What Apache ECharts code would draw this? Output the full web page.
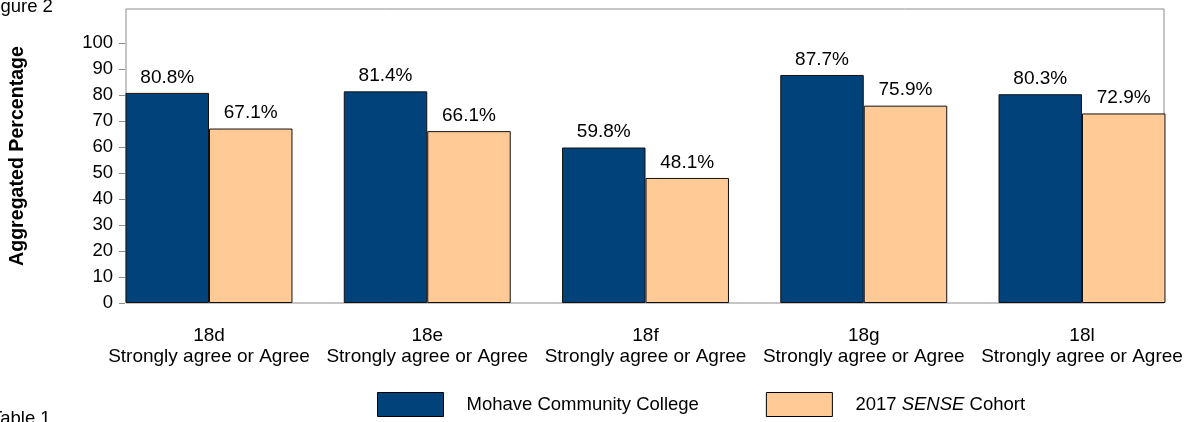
<!DOCTYPE html>
<html>
<head>
<meta charset="utf-8">
<script src="https://cdn.jsdelivr.net/npm/echarts@6/dist/echarts.min.js"></script>
<style>
  html, body { margin: 0; padding: 0; background: #fff; }
  #chart { width: 1187px; height: 422px; }
</style>
</head>
<body>
<div id="chart"></div>
<script>
const categories = ['18d', '18e', '18f', '18g', '18l'];
const categorySub = 'Strongly agree or Agree';
const seriesNames = ['Mohave Community College', '2017 SENSE Cohort'];
const collegeValues = [80.8, 81.4, 59.8, 87.7, 80.3];
const cohortValues = [67.1, 66.1, 48.1, 75.9, 72.9];
const yTicks = { min: 0, max: 100, interval: 10 };
const yAxisTitle = 'Aggregated Percentage';
const figureLabel = 'Figure 2';
const tableLabel = 'Table 1';

const FONT = '"Liberation Sans", Arial, sans-serif';
const FS = 18.5;
const FS_CAT = 19;
const NAVY = '#02427A';
const PEACH = '#FFCA96';

const chart = echarts.init(document.getElementById('chart'), null, { renderer: 'canvas' });

const option = {
  backgroundColor: '#ffffff',
  animation: false,
  textStyle: { fontFamily: FONT, color: '#000' },
  grid: [
    // frame box
    { left: 125, right: 23, top: 9, bottom: 119, show: true, borderColor: '#8c8c8c', borderWidth: 1, backgroundColor: 'transparent' },
    // visible y scale
    { left: 125, right: 23, top: 43, bottom: 119 },
    // bars (category centres from first to last group)
    { left: 209, right: 105, top: 43, bottom: 119 }
  ],
  xAxis: [
    { gridIndex: 0, type: 'value', show: false },
    { gridIndex: 1, type: 'value', show: false },
    {
      gridIndex: 2, type: 'category', data: categories, boundaryGap: false,
      axisLine: { show: false }, axisTick: { show: false }, splitLine: { show: false },
      axisLabel: {
        interval: 0, margin: 22, fontSize: FS_CAT, lineHeight: 21, color: '#000', fontFamily: FONT,
        formatter: v => v + '\n' + categorySub
      }
    }
  ],
  yAxis: [
    {
      gridIndex: 0, type: 'value', min: 0, max: 100,
      name: yAxisTitle, nameLocation: 'middle', nameGap: 98,
      nameTextStyle: { fontSize: 19.6, fontWeight: 'bold', color: '#000', fontFamily: FONT },
      axisLine: { show: false }, axisTick: { show: false }, axisLabel: { show: false }, splitLine: { show: false }
    },
    {
      gridIndex: 1, type: 'value', min: yTicks.min, max: yTicks.max, interval: yTicks.interval,
      axisLine: { show: false },
      axisTick: { show: true, length: 6, lineStyle: { color: '#8c8c8c', width: 1 } },
      axisLabel: { margin: 12, fontSize: FS, color: '#000', fontFamily: FONT },
      splitLine: { show: false }
    },
    {
      gridIndex: 2, type: 'value', min: yTicks.min, max: yTicks.max, show: false, splitLine: { show: false }
    }
  ],
  legend: {
    data: seriesNames,
    left: 377, top: 392, padding: 0,
    itemWidth: 66, itemHeight: 24, itemGap: 67,
    icon: 'rect',
    itemStyle: { borderColor: '#000', borderWidth: 1 },
    textStyle: {
      fontSize: FS, color: '#000', fontFamily: FONT, padding: [0, 0, 0, 18],
      rich: { i: { fontStyle: 'italic', fontSize: FS, fontFamily: FONT, color: '#000' } }
    },
    formatter: name => name.replace('SENSE', '{i|SENSE}')
  },
  graphic: [
    { type: 'text', left: -15, top: -3, style: { text: figureLabel, fontSize: FS, fontFamily: FONT, fill: '#000' } },
    { type: 'text', left: -9, top: 409, style: { text: tableLabel, fontSize: FS, fontFamily: FONT, fill: '#000' } }
  ],
  series: [
    {
      name: seriesNames[0], type: 'bar', xAxisIndex: 2, yAxisIndex: 2, clip: false,
      data: collegeValues, barGap: '0%', barCategoryGap: '23.5%',
      itemStyle: { color: NAVY, borderColor: '#111', borderWidth: 1 },
      label: { show: true, position: 'top', distance: 6, fontSize: 19, color: '#000', fontFamily: FONT, formatter: p => p.value.toFixed(1) + '%' }
    },
    {
      name: seriesNames[1], type: 'bar', xAxisIndex: 2, yAxisIndex: 2, clip: false,
      data: cohortValues, barGap: '0%', barCategoryGap: '23.5%',
      itemStyle: { color: PEACH, borderColor: '#111', borderWidth: 1 },
      label: { show: true, position: 'top', distance: 6, fontSize: 19, color: '#000', fontFamily: FONT, formatter: p => p.value.toFixed(1) + '%' }
    }
  ]
};

chart.setOption(option);
</script>
</body>
</html>
